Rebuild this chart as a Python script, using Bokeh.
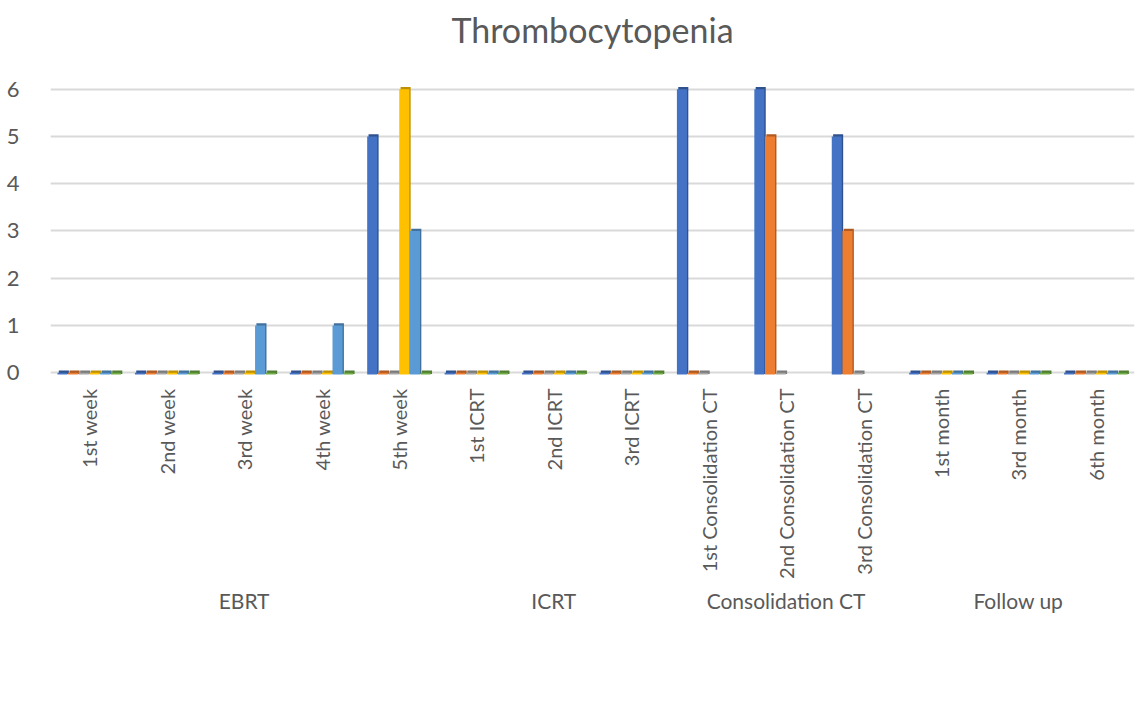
import math
from bokeh.plotting import figure
from bokeh.models import (ColumnDataSource, FactorRange, FixedTicker, Legend,
                          LegendItem, Range1d, Title)
from bokeh.transform import dodge
from bokeh.embed import file_html
from bokeh.resources import INLINE

nan = float("nan")

title_text = "Thrombocytopenia"
groups = ["EBRT"] * 5 + ["ICRT"] * 3 + ["Consolidation CT"] * 3 + ["Follow up"] * 3
subcats = ["1st week", "2nd week", "3rd week", "4th week", "5th week",
           "1st ICRT", "2nd ICRT", "3rd ICRT",
           "1st Consolidation CT", "2nd Consolidation CT", "3rd Consolidation CT",
           "1st month", "3rd month", "6th month"]

series_names = ["Study Grade 1", "Study Grade 2", "Study Grade 3",
                "Control Grade 1", "Control Grade 2", "Control Grade 3"]
study_g1 = [0, 0, 0, 0, 5, 0, 0, 0, 6, 6, 5, 0, 0, 0]
study_g2 = [0, 0, 0, 0, 0, 0, 0, 0, 0, 5, 3, 0, 0, 0]
study_g3 = [0, 0, 0, 0, 0, 0, 0, 0, 0, 0, 0, 0, 0, 0]
control_g1 = [0, 0, 0, 0, 6, 0, 0, 0, nan, nan, nan, 0, 0, 0]
control_g2 = [0, 0, 1, 1, 3, 0, 0, 0, nan, nan, nan, 0, 0, 0]
control_g3 = [0, 0, 0, 0, 0, 0, 0, 0, nan, nan, nan, 0, 0, 0]
y_ticks = [0, 1, 2, 3, 4, 5, 6]

colors = ["#4472C4", "#ED7D31", "#A5A5A5", "#FFC000", "#5B9BD5", "#70AD47"]
dark = ["#2F528F", "#AE5A21", "#7B7B7B", "#BF9000", "#41719C", "#507E32"]

factors = list(zip(groups, subcats))
all_series = [study_g1, study_g2, study_g3, control_g1, control_g2, control_g3]

TEXT = "#595959"
FONT = "Lato"

p = figure(
    x_range=FactorRange(*factors, factor_padding=0, group_padding=0, range_padding=0),
    y_range=Range1d(-0.08, 6.1),
    frame_width=1084, frame_height=292,
    output_backend="svg", toolbar_location=None,
    min_border_left=50, min_border_right=6, min_border_top=84, min_border_bottom=0,
)

# spacer (nearest to the frame) then the real title above it
p.add_layout(Title(text=" ", text_font=FONT, text_font_size="22px", standoff=4), "above")
p.add_layout(Title(text=title_text, align="center", text_font=FONT,
                   text_font_size="34px", text_font_style="normal",
                   text_color=TEXT, standoff=4), "above")

pitch = 0.138
bw = 0.13
depth_x = 0.035
depth_y = 0.045
base = -0.04

items = []
for i, (name, vals) in enumerate(zip(series_names, all_series)):
    off = (i - 2.5) * pitch
    src = ColumnDataSource(dict(
        x=factors,
        top=vals,
        top_side=[v + depth_y for v in vals],
    ))
    p.vbar(x=dodge("x", off + depth_x * 0.5, range=p.x_range), width=bw,
           bottom=base + depth_y * 0.3, top="top_side", source=src,
           fill_color=dark[i], line_color=None)
    r = p.vbar(x=dodge("x", off, range=p.x_range), width=bw,
               bottom=base, top="top", source=src,
               fill_color=colors[i], line_color=None)
    items.append(LegendItem(label=name, renderers=[r]))

# y axis
p.yaxis.ticker = FixedTicker(ticks=y_ticks)
p.yaxis.axis_line_color = None
p.yaxis.major_tick_line_color = None
p.yaxis.minor_tick_line_color = None
p.yaxis.major_label_standoff = 25
p.yaxis.major_label_text_font = FONT
p.yaxis.major_label_text_font_size = "22px"
p.yaxis.major_label_text_color = TEXT

p.ygrid.grid_line_color = "#d9d9d9"
p.ygrid.grid_line_width = 2
p.xgrid.grid_line_color = None
p.outline_line_color = None

# x axis
xa = p.xaxis[0]
xa.axis_line_color = None
xa.major_tick_line_color = None
xa.minor_tick_line_color = None
xa.major_label_orientation = math.pi / 2
xa.major_label_text_font = FONT
xa.major_label_text_font_size = "20px"
xa.major_label_text_color = TEXT
xa.major_label_standoff = 6
xa.group_text_font = FONT
xa.group_text_font_size = "21px"
xa.group_text_font_style = "normal"
xa.group_text_color = TEXT
xa.group_label_orientation = "horizontal"
xa.separator_line_color = None

legend = Legend(items=items, orientation="horizontal", location="top_left",
                glyph_width=12, glyph_height=12, label_standoff=8, spacing=19,
                label_text_font=FONT, label_text_font_size="22px",
                label_text_color=TEXT, border_line_color=None,
                background_fill_alpha=0, margin=0, padding=0)
p.add_layout(legend, "below")

open("out.html", "w").write(file_html(p, INLINE))
